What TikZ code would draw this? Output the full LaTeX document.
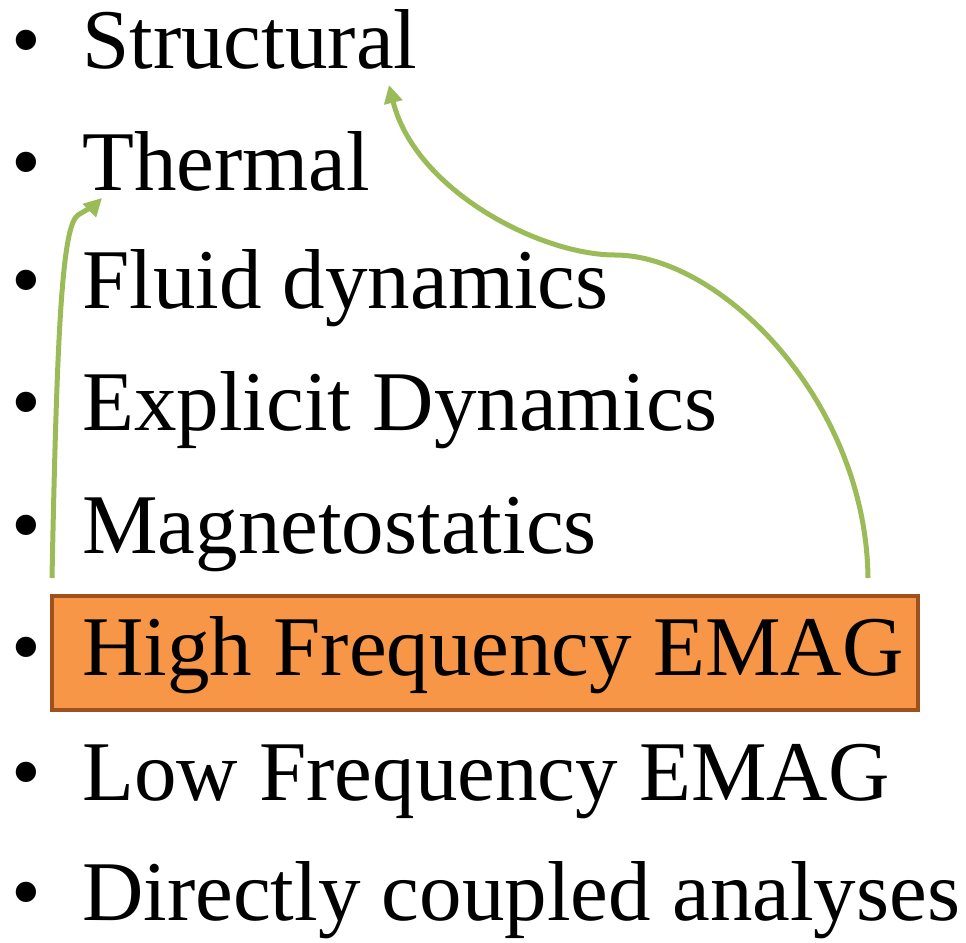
\documentclass[tikz,border=0pt]{standalone}
\usepackage{fontspec}
\setmainfont{Liberation Serif}
\usetikzlibrary{arrows.meta}
\definecolor{accentgreen}{HTML}{9BBB59}
\definecolor{boxfill}{HTML}{F79646}
\definecolor{boxedge}{HTML}{A0501A}
\tikzset{
  item/.style={anchor=base west, inner sep=0pt, font=\fontsize{85}{85}\selectfont},
  bullet/.style={anchor=base west, inner sep=0pt, font=\fontsize{85}{85}\selectfont},
  link/.style={draw=accentgreen, line width=5pt, -{Triangle[length=18pt,width=18pt]}},
  hilite/.style={fill=boxfill, draw=boxedge, line width=3.5pt}
}
\begin{document}
\begin{tikzpicture}[x=1pt,y=-1pt]
\useasboundingbox (0,0) rectangle (966,942);
\fill[hilite] (52,596) rectangle (918,710);
\foreach \y/\t/\n in {68/Structural/s1, 190/Thermal/s2, 308/Fluid dynamics/s3, 430/Explicit Dynamics/s4, 553/Magnetostatics/s5, 675/High Frequency EMAG/s6, 800/Low Frequency EMAG/s7, 920/Directly coupled analyses/s8}{
  \node[bullet] (b\n) at (11,\y) {•};
  \node[item] (\n) at (82,\y) {\t};
}
\coordinate (ls) at (52,578);
\coordinate (lk) at (78,215);
\coordinate (lt) at (102,198);
\coordinate (rs) at (868,578);
\coordinate (rm) at (615,255);
\coordinate (rt) at (389,85);
\draw[link] (ls) .. controls (57,330) and (62,226) .. (lk) .. controls (88,209) and (95,205) .. (lt);
\draw[link] (rs) .. controls (866,400) and (720,255) .. (rm) .. controls (540,255) and (415,190) .. (rt);
\end{tikzpicture}
\end{document}
